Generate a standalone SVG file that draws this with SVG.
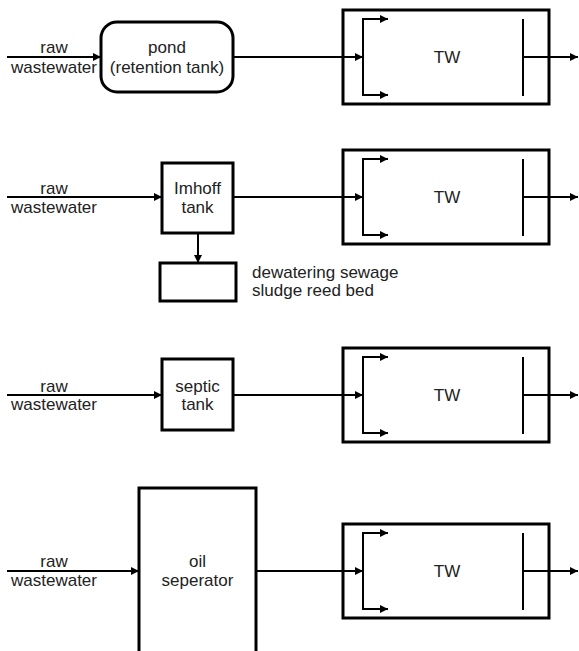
<svg xmlns="http://www.w3.org/2000/svg" width="579" height="651" viewBox="0 0 579 651">
<defs>
<marker id="ah" viewBox="0 0 10 10" refX="10" refY="5" markerWidth="10" markerHeight="8" markerUnits="userSpaceOnUse" orient="auto">
<path d="M0,0 L10,5 L0,10 Z" fill="#000"/>
</marker>
<style>
.box{fill:#fff;stroke:#000;stroke-width:3}
.ln{fill:none;stroke:#000;stroke-width:2}
.ar{fill:none;stroke:#000;stroke-width:2;marker-end:url(#ah)}
text{font-family:"Liberation Sans",Arial,sans-serif;font-size:17px;fill:#222}
.c{text-anchor:middle}
</style>
</defs>
<rect width="579" height="651" fill="#fff"/>

<g id="row1">
<g id="pond"><rect class="box" x="101" y="22" width="132" height="70" rx="16"/>
<text class="c" x="167" y="53">pond</text><text class="c" x="167" y="73">(retention tank)</text></g>
<g id="tw1"><rect class="box" x="343" y="10" width="206" height="94"/>
<text class="c" x="447" y="63">TW</text></g>
<g id="in1"><text class="c" x="54" y="53">raw</text><text class="c" x="54" y="73">wastewater</text></g>
</g>

<g id="row2">
<g id="imhoff"><rect class="box" x="162" y="163" width="71" height="70"/>
<text class="c" x="197.5" y="194">Imhoff</text><text class="c" x="197.5" y="213">tank</text></g>
<g id="sludge"><rect class="box" x="160" y="263" width="76" height="38"/>
<text x="252" y="278">dewatering sewage</text><text x="252" y="296">sludge reed bed</text></g>
<g id="tw2"><rect class="box" x="343" y="150" width="206" height="94"/>
<text class="c" x="447" y="203">TW</text></g>
<g id="in2"><text class="c" x="54" y="194">raw</text><text class="c" x="54" y="213">wastewater</text></g>
</g>

<g id="row3">
<g id="septic"><rect class="box" x="162" y="359" width="71" height="71"/>
<text class="c" x="197.5" y="392">septic</text><text class="c" x="197.5" y="410">tank</text></g>
<g id="tw3"><rect class="box" x="343" y="348" width="206" height="94"/>
<text class="c" x="447" y="401">TW</text></g>
<g id="in3"><text class="c" x="54" y="392">raw</text><text class="c" x="54" y="410">wastewater</text></g>
</g>

<g id="row4">
<g id="oil"><rect class="box" x="139" y="488" width="117" height="166"/>
<text class="c" x="197.5" y="567">oil</text><text class="c" x="197.5" y="586">seperator</text></g>
<g id="tw4"><rect class="box" x="343" y="524" width="206" height="94"/>
<text class="c" x="447" y="577">TW</text></g>
<g id="in4"><text class="c" x="54" y="567">raw</text><text class="c" x="54" y="586">wastewater</text></g>
</g>

<g id="connectors">
<!-- row 1 -->
<line class="ar" x1="7" y1="57" x2="101" y2="57"/>
<line class="ar" x1="233" y1="57" x2="363" y2="57"/>
<line class="ln" x1="363" y1="19" x2="363" y2="95"/>
<line class="ar" x1="362" y1="19" x2="388" y2="19"/>
<line class="ar" x1="362" y1="95" x2="388" y2="95"/>
<line class="ln" x1="523" y1="19" x2="523" y2="96"/>
<line class="ar" x1="523" y1="57" x2="578" y2="57"/>
<!-- row 2 -->
<line class="ar" x1="7" y1="197" x2="162" y2="197"/>
<line class="ar" x1="233" y1="197" x2="363" y2="197"/>
<line class="ln" x1="363" y1="159" x2="363" y2="235"/>
<line class="ar" x1="362" y1="159" x2="388" y2="159"/>
<line class="ar" x1="362" y1="235" x2="388" y2="235"/>
<line class="ln" x1="523" y1="159" x2="523" y2="236"/>
<line class="ar" x1="523" y1="197" x2="578" y2="197"/>
<line class="ar" x1="198" y1="233" x2="198" y2="263"/>
<!-- row 3 -->
<line class="ar" x1="7" y1="395" x2="162" y2="395"/>
<line class="ar" x1="233" y1="395" x2="363" y2="395"/>
<line class="ln" x1="363" y1="357" x2="363" y2="433"/>
<line class="ar" x1="362" y1="357" x2="388" y2="357"/>
<line class="ar" x1="362" y1="433" x2="388" y2="433"/>
<line class="ln" x1="523" y1="357" x2="523" y2="434"/>
<line class="ar" x1="523" y1="395" x2="578" y2="395"/>
<!-- row 4 -->
<line class="ar" x1="7" y1="571" x2="139" y2="571"/>
<line class="ar" x1="256" y1="571" x2="363" y2="571"/>
<line class="ln" x1="363" y1="533" x2="363" y2="609"/>
<line class="ar" x1="362" y1="533" x2="388" y2="533"/>
<line class="ar" x1="362" y1="609" x2="388" y2="609"/>
<line class="ln" x1="523" y1="533" x2="523" y2="610"/>
<line class="ar" x1="523" y1="571" x2="578" y2="571"/>
</g>
</svg>
